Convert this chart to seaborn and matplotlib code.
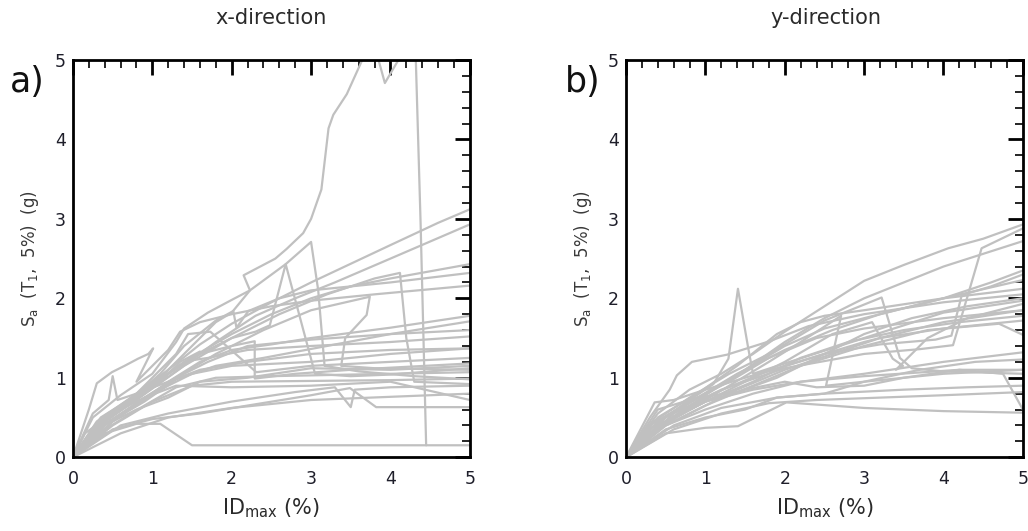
import numpy as np
import pandas as pd
import matplotlib
matplotlib.use("Agg")
import matplotlib.pyplot as plt
from matplotlib.ticker import MultipleLocator
import seaborn as sns

sns.set_style("white")
plt.rcParams['font.family'] = ['DejaVu Sans']

# ---- data: IDA curves, (ID_max %, Sa g) ----
curves_x_dir = [
    [(0,0),(0.25,0.5),(0.6,0.78),(1.0,1.05),(1.3,1.45),(1.4,1.62),(1.7,1.82),(2.0,1.98),(2.23,2.1),(2.15,2.29),(2.55,2.5),(2.69,2.62),(2.9,2.82),(3.0,3.0),(3.13,3.37),(3.22,4.14),(3.28,4.31),(3.45,4.57),(3.64,4.99),(3.75,5.3),(3.85,5.0),(3.93,4.71),(4.1,5.0),(4.25,5.4),(4.32,5.0),(4.38,2.95),(4.45,0.15)],
    [(0,0),(0.4,0.3),(0.8,0.42),(1.1,0.42),(1.5,0.15),(3.0,0.15),(5.0,0.15)],
    [(0,0),(0.3,0.42),(0.7,0.7),(1.1,0.98),(1.5,1.25),(2.0,1.5),(2.3,1.58),(2.48,1.66),(2.68,2.43),(3.05,1.05),(3.5,1.02),(4.0,1.04),(5.0,1.12)],
    [(0,0),(0.35,0.5),(0.7,0.72),(1.1,1.0),(1.4,1.3),(1.8,1.7),(2.0,1.82),(2.23,2.1),(2.68,2.43),(3.0,2.71),(3.09,2.1),(3.17,1.15),(3.6,1.08),(4.3,1.02),(5.0,0.98)],
    [(0,0),(0.35,0.45),(0.8,0.8),(1.2,1.1),(1.6,1.42),(2.0,1.68),(2.5,1.95),(3.0,2.2),(4.0,2.67),(4.6,2.95),(5.0,3.12)],
    [(0,0),(0.3,0.38),(0.8,0.72),(1.3,1.08),(1.8,1.45),(2.3,1.78),(2.8,2.0),(3.3,2.2),(4.0,2.5),(5.0,2.93)],
    [(0,0),(0.4,0.45),(0.9,0.8),(1.4,1.15),(2.0,1.5),(2.6,1.8),(3.2,2.05),(3.8,2.25),(4.12,2.32),(4.2,1.5),(4.3,0.95),(5.0,0.92)],
    [(0,0),(0.4,0.5),(0.9,0.85),(1.4,1.2),(2.0,1.55),(2.5,1.8),(3.0,2.0),(3.5,2.15),(4.0,2.25),(5.0,2.43)],
    [(0,0),(0.3,0.35),(0.8,0.68),(1.3,1.0),(1.8,1.3),(2.4,1.6),(3.0,1.85),(3.74,2.02),(3.7,1.79),(3.43,1.5),(3.38,1.15),(3.8,1.12),(5.0,1.1)],
    [(0,0),(0.2,0.6),(0.3,0.93),(0.49,1.07),(0.65,1.15),(0.82,1.24),(0.95,1.3),(1.01,1.37),(0.8,0.95),(0.95,1.1),(1.2,1.35),(1.35,1.58),(1.6,1.7),(2.0,1.8),(2.5,1.9),(3.0,1.97),(3.8,2.05),(5.0,2.16)],
    [(0,0),(0.25,0.55),(0.45,0.72),(0.5,1.02),(0.56,0.72),(0.8,0.8),(1.2,0.95),(1.6,1.1),(2.2,1.2),(3.0,1.3),(4.0,1.35),(5.0,1.37)],
    [(0,0),(0.3,0.4),(0.7,0.7),(1.1,1.05),(1.4,1.4),(1.8,1.72),(2.02,1.84),(2.06,1.63),(2.21,1.84),(2.6,2.0),(3.0,2.1),(4.0,2.2),(5.0,2.32)],
    [(0,0),(0.3,0.35),(0.8,0.65),(1.2,0.95),(1.6,1.2),(2.0,1.35),(2.5,1.42),(3.0,1.5),(4.0,1.63),(5.0,1.78)],
    [(0,0),(0.35,0.38),(0.9,0.7),(1.3,0.98),(1.8,1.15),(2.4,1.25),(3.2,1.4),(4.0,1.55),(5.0,1.71)],
    [(0,0),(0.4,0.4),(0.9,0.75),(1.3,1.0),(1.7,1.2),(2.2,1.4),(3.0,1.48),(4.0,1.55),(5.0,1.6)],
    [(0,0),(0.3,0.42),(0.75,0.7),(1.1,0.95),(1.35,1.2),(1.6,1.33),(1.5,1.22),(1.7,1.25),(2.2,1.35),(3.0,1.4),(4.0,1.45),(5.0,1.52)],
    [(0,0),(0.5,0.45),(1.0,0.8),(1.5,1.05),(2.0,1.15),(3.0,1.2),(4.0,1.3),(5.0,1.37)],
    [(0,0),(0.35,0.4),(0.8,0.75),(1.2,1.05),(1.6,1.3),(2.0,1.4),(2.29,1.46),(2.29,0.99),(2.8,1.05),(3.5,1.1),(5.0,1.18)],
    [(0,0),(0.4,0.35),(0.9,0.65),(1.3,0.88),(1.8,1.0),(2.5,1.02),(3.5,1.04),(5.0,1.07)],
    [(0,0),(0.5,0.4),(1.0,0.7),(1.5,0.9),(2.0,0.95),(3.0,0.96),(4.0,0.97),(5.0,0.99)],
    [(0,0),(0.6,0.4),(1.2,0.55),(2.0,0.7),(2.8,0.82),(3.3,0.88),(3.5,0.63),(3.55,0.85),(4.0,0.88),(5.0,0.9)],
    [(0,0),(0.5,0.35),(1.0,0.48),(1.6,0.55),(2.2,0.65),(3.0,0.78),(3.49,0.87),(3.82,0.63),(5.0,0.63)],
    [(0,0),(0.6,0.3),(1.2,0.5),(2.0,0.62),(3.0,0.72),(4.0,0.76),(5.0,0.8)],
    [(0,0),(0.5,0.45),(0.8,0.6),(1.2,0.75),(1.6,0.95),(2.2,1.0),(3.0,1.12),(4.0,1.1),(5.0,1.15)],
    [(0,0),(0.3,0.45),(0.8,0.8),(1.3,1.3),(1.45,1.55),(1.73,1.58),(2.31,1.07),(3.0,1.15),(4.0,1.2),(5.0,1.25)],
    [(0,0),(0.15,0.3),(0.5,0.55),(0.9,0.75),(1.3,0.9),(2.0,0.88),(3.0,0.9),(4.0,0.95),(5.0,0.72)],
]

curves_y_dir = [
    [(0,0),(0.4,0.55),(0.8,0.85),(1.2,1.05),(1.6,1.3),(2.0,1.58),(2.5,1.9),(3.0,2.22),(3.5,2.42),(4.06,2.63),(4.5,2.75),(5.0,2.93)],
    [(0,0),(0.5,0.5),(1.0,0.8),(1.5,1.1),(2.0,1.45),(2.5,1.75),(3.0,2.0),(4.0,2.4),(5.0,2.72)],
    [(0,0),(0.6,0.55),(1.2,0.85),(2.0,1.12),(3.0,1.3),(3.7,1.36),(4.12,1.41),(4.31,2.05),(4.48,2.63),(5.0,2.88)],
    [(0,0),(0.3,0.35),(0.7,0.65),(1.1,0.92),(1.29,1.24),(1.41,2.12),(1.54,1.37),(1.6,1.05),(2.0,1.18),(3.0,1.5),(4.0,1.82),(5.0,1.97)],
    [(0,0),(0.35,0.45),(0.8,0.75),(1.3,1.05),(1.8,1.3),(2.5,1.72),(3.22,2.01),(3.45,1.25),(3.6,1.12),(4.0,1.08),(5.0,1.05)],
    [(0,0),(0.3,0.3),(0.8,0.6),(1.3,0.9),(1.8,1.2),(2.2,1.45),(2.71,1.78),(2.52,0.9),(3.0,0.95),(4.0,1.05),(5.0,1.1)],
    [(0,0),(0.4,0.4),(1.0,0.7),(1.6,0.85),(2.2,0.95),(3.0,1.02),(4.2,1.1),(4.75,1.05),(5.0,0.6)],
    [(0,0),(0.5,0.3),(1.0,0.37),(1.41,0.39),(2.02,0.69),(3.0,0.62),(4.0,0.58),(5.0,0.56)],
    [(0,0),(0.3,0.5),(0.55,0.85),(0.64,1.03),(0.83,1.2),(1.27,1.29),(1.81,1.46),(2.3,1.65),(3.0,1.8),(4.0,1.95),(5.0,2.05)],
    [(0,0),(0.36,0.69),(0.6,0.72),(1.0,0.85),(1.5,1.0),(2.0,1.15),(3.0,1.45),(4.0,1.7),(5.0,1.85)],
    [(0,0),(0.4,0.45),(0.9,0.75),(1.4,1.05),(2.0,1.35),(2.6,1.6),(3.2,1.8),(4.0,2.0),(4.6,2.2),(5.0,2.35)],
    [(0,0),(0.5,0.45),(1.0,0.78),(1.5,1.1),(2.0,1.4),(2.5,1.62),(3.0,1.75),(4.0,2.0),(5.0,2.23)],
    [(0,0),(0.4,0.5),(0.9,0.8),(1.4,1.15),(1.9,1.55),(2.2,1.7),(2.5,1.78),(3.0,1.85),(4.0,2.0),(5.0,2.12)],
    [(0,0),(0.45,0.4),(1.0,0.7),(1.5,0.95),(2.0,1.2),(2.6,1.55),(3.1,1.7),(3.36,1.24),(3.49,1.15),(3.4,1.1),(3.8,1.5),(4.3,1.75),(5.0,1.93)],
    [(0,0),(0.3,0.4),(0.8,0.7),(1.3,0.95),(1.8,1.25),(2.4,1.5),(3.0,1.62),(4.0,1.75),(5.0,1.85)],
    [(0,0),(0.5,0.45),(1.0,0.7),(1.6,0.95),(2.2,1.25),(2.8,1.45),(3.5,1.6),(4.2,1.7),(5.0,1.78)],
    [(0,0),(0.4,0.35),(0.9,0.6),(1.4,0.85),(2.0,1.1),(2.6,1.3),(3.2,1.5),(4.0,1.62),(5.0,1.72)],
    [(0,0),(0.5,0.4),(1.0,0.65),(1.6,0.9),(2.2,1.15),(3.0,1.4),(3.8,1.6),(4.7,1.68),(5.0,1.54)],
    [(0,0),(0.5,0.4),(1.0,0.6),(1.6,0.8),(2.2,0.95),(3.0,1.05),(4.0,1.2),(5.0,1.32)],
    [(0,0),(0.6,0.4),(1.2,0.62),(1.9,0.75),(2.5,0.8),(3.0,0.95),(3.7,1.1),(4.4,1.2),(5.0,1.23)],
    [(0,0),(0.5,0.35),(1.0,0.5),(1.5,0.6),(1.9,0.75),(2.5,0.8),(3.5,0.85),(4.3,0.88),(5.0,0.9)],
    [(0,0),(0.6,0.35),(1.2,0.55),(1.8,0.68),(2.4,0.72),(3.2,0.75),(4.0,0.78),(5.0,0.82)],
    [(0,0),(0.5,0.45),(1.0,0.7),(1.5,0.85),(2.0,0.95),(2.4,0.88),(3.0,0.9),(3.5,1.0),(4.2,1.1),(5.0,1.1)],
    [(0,0),(0.5,0.45),(1.1,0.8),(1.7,1.05),(2.5,1.3),(3.2,1.42),(3.9,1.48),(4.1,1.53),(4.23,2.04),(4.6,2.15),(5.0,2.3)],
    [(0,0),(0.4,0.6),(0.9,0.75),(1.4,0.82),(1.9,1.0),(2.4,1.25),(3.0,1.55),(3.6,1.75),(4.3,1.9),(5.0,2.0)],
]

panel_titles = ["x-direction", "y-direction"]
panel_letters = ["a)", "b)"]
x_ticks = [0, 1, 2, 3, 4, 5]
y_ticks = [0, 1, 2, 3, 4, 5]


def to_frame(curves):
    rows = []
    for cid, pts in enumerate(curves):
        for k, (x, y) in enumerate(pts):
            rows.append({"curve": cid, "order": k, "x": x, "y": y})
    return pd.DataFrame(rows)


fig = plt.figure(figsize=(10.28, 5.31), dpi=100)
axes_pos = [[0.071, 0.139, 0.386, 0.748], [0.609, 0.139, 0.386, 0.748]]
title_x = [0.2636, 0.8035]
letter_x = [0.0097, 0.5496]

for i, curves in enumerate([curves_x_dir, curves_y_dir]):
    ax = fig.add_axes(axes_pos[i])
    df = to_frame(curves)
    sns.lineplot(data=df, x="x", y="y", units="curve", estimator=None, sort=False,
                 color="#c0c0c0", lw=1.6, ax=ax, legend=False)
    ax.set_xlim(0, 5)
    ax.set_ylim(0, 5)
    ax.set_xticks(x_ticks)
    ax.set_yticks(y_ticks)
    ax.xaxis.set_minor_locator(MultipleLocator(0.2))
    ax.yaxis.set_minor_locator(MultipleLocator(0.2))
    ax.tick_params(which="both", direction="in", top=True, right=True,
                   colors="black", labelcolor="#1e1e2a")
    ax.tick_params(which="major", length=10.5, width=2.0, labelsize=12.5)
    ax.tick_params(axis="x", which="major", pad=9)
    ax.tick_params(axis="y", which="major", pad=5)
    ax.tick_params(which="minor", length=6, width=1.2)
    for sp in ax.spines.values():
        sp.set_linewidth(2.0)
        sp.set_color("black")
        sp.set_visible(True)
    ax.set_xlabel(r"ID$_{\mathregular{max}}$ (%)", fontsize=15, color="#2a2a2a", labelpad=6)
    ax.set_ylabel(r"S$_{\mathregular{a}}$  (T$_{\mathregular{1}}$,  5%)  (g)", fontsize=12,
                  color="#3a3a3a", labelpad=10)
    fig.text(title_x[i], 0.966, panel_titles[i], ha="center", va="center",
             fontsize=15, color="#2a2a2a")
    fig.text(letter_x[i], 0.827, panel_letters[i], ha="left", va="baseline",
             fontsize=25, color="#111111")

fig.savefig("out.png", dpi=100)
